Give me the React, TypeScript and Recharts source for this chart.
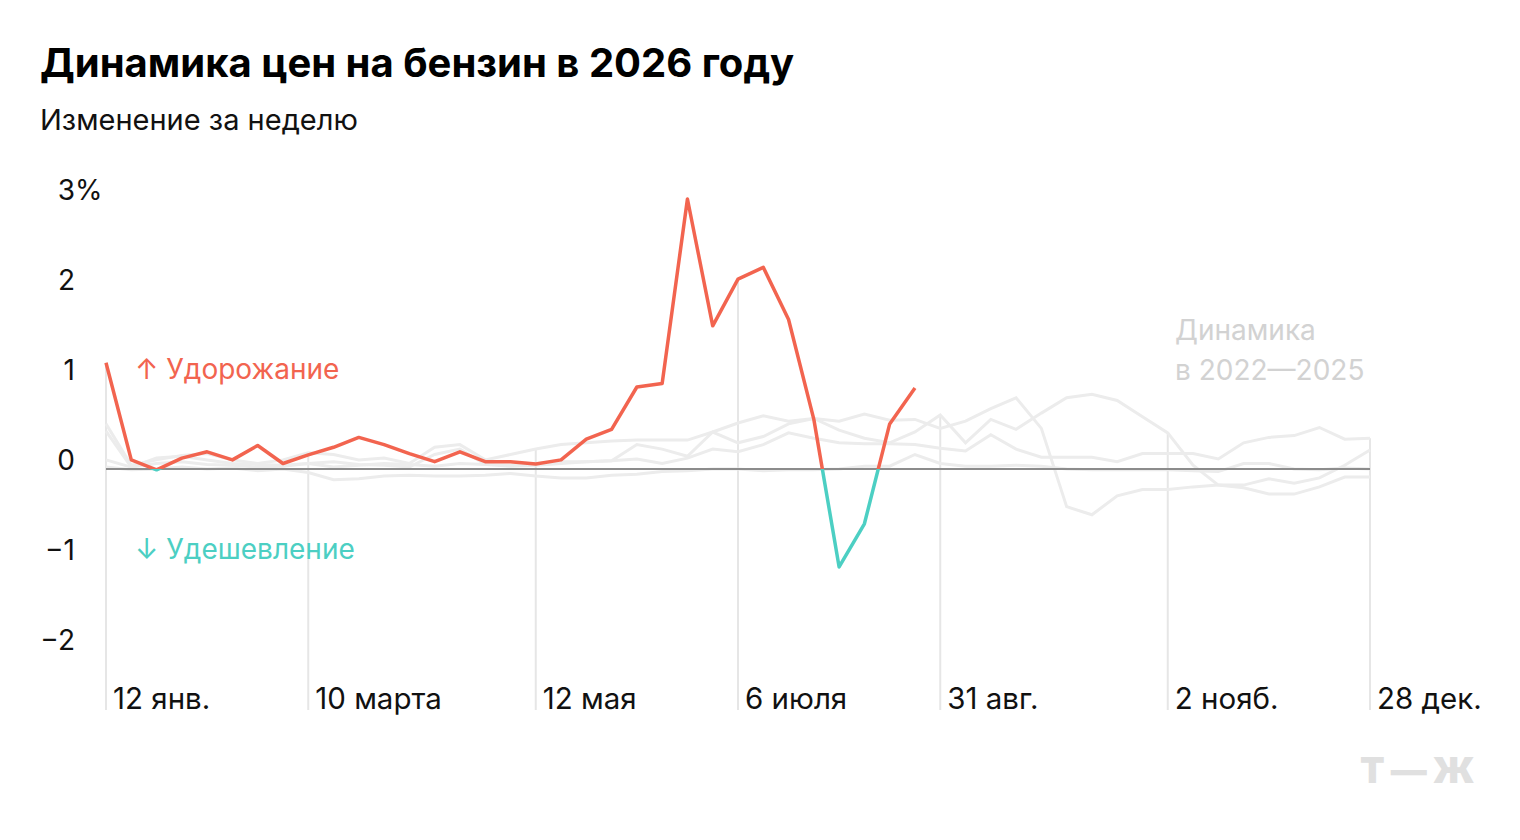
import { LineChart, Line, XAxis, YAxis, ReferenceLine } from "recharts"

// weekly change, %, weeks starting 12 Jan
const price2026 = [
  1.18, 0.1, -0.01, 0.12, 0.19, 0.1, 0.26, 0.06, 0.155, 0.24,
  0.35, 0.27, 0.17, 0.08, 0.19, 0.08, 0.08, 0.055, 0.1, 0.33,
  0.44, 0.91, 0.95, 3.0, 1.59, 2.11, 2.24, 1.66, 0.55, -1.09,
  -0.61, 0.5, 0.9,
]

const pastA = [
  0.5, 0.04, 0.1, 0.15, 0.17, 0.1, 0.06, 0.1, 0.18, 0.16, 0.1, 0.12, 0.06, 0.24, 0.27, 0.1, 0.16, 0.22, 0.27,
  0.29, 0.31, 0.32, 0.32, 0.32, 0.41, 0.51, 0.59, 0.53, 0.56, 0.53, 0.61, 0.54, 0.55,
  0.45, 0.53, 0.67, 0.79, 0.45, -0.42, -0.51, -0.3, -0.23, -0.23, -0.2, -0.18, -0.18, -0.11, -0.16, -0.1, 0.04, 0.21,
]
const pastB = [
  0.42, 0.02, 0.06, 0.08, 0.05, 0.04, 0.02, 0.03, 0.06, 0.08, 0.05, 0.04, 0.02, 0.16, 0.22, 0.05, 0.03, 0.04, 0.06,
  0.08, 0.09, 0.27, 0.22, 0.14, 0.41, 0.29, 0.36, 0.5, 0.56, 0.43, 0.34, 0.29, 0.41,
  0.6, 0.29, 0.55, 0.44, 0.62, 0.79, 0.83, 0.76, 0.58, 0.4, 0.04, -0.18, -0.21, -0.28, -0.28, -0.2, -0.09, -0.09,
]
const pastC = [
  0.1, 0.02, 0.12, 0.14, 0.1, 0.06, 0.05, 0.04, 0.06, 0.02, 0.04, 0.06, 0.05, 0.03, 0.06, 0.05, 0.04, 0.06, 0.08,
  0.08, 0.09, 0.11, 0.06, 0.12, 0.22, 0.19, 0.27, 0.4, 0.34, 0.29, 0.28, 0.28, 0.27,
  0.23, 0.2, 0.38, 0.22, 0.13, 0.13, 0.13, 0.08, 0.17, 0.17, 0.17, 0.11, 0.29, 0.35, 0.37, 0.46, 0.33, 0.34,
]
const pastD = [
  0.02, -0.01, 0.0, 0.02, 0.0, 0.01, -0.02, 0.0, -0.04, -0.12, -0.11, -0.08, -0.07, -0.08, -0.08, -0.07, -0.05, -0.08, -0.1,
  -0.1, -0.07, -0.06, -0.03, -0.02, 0.0, 0.0, -0.02, -0.01, -0.01, 0.0, 0.03, 0.03, 0.16,
  0.06, 0.03, 0.03, 0.04, 0.03, 0.0, -0.01, -0.01, -0.01, -0.01, -0.02, -0.03, 0.06, 0.06, 0.0, -0.01, 0.01, 0.0,
]

const xTicks = [0, 8, 17, 25, 33, 42, 50]
const xTickLabels = ["12 янв.", "10 марта", "12 мая", "6 июля", "31 авг.", "2 нояб.", "28 дек."]
const yTicks = [-2, -1, 0, 1, 2, 3]

const RED = "#f2644f"
const TEAL = "#4ccfc3"
const PAST = "#ececec"
const FONT = "Inter, 'Noto Sans', sans-serif"
const Y_MIN = -2.68
const Y_MAX = 3.3

const data = pastA.map((v, i) => ({
  week: i,
  a: v,
  b: pastB[i],
  c: pastC[i],
  d: pastD[i],
  now: i < price2026.length ? price2026[i] : null,
}))

// drop lines start at the highest series value of the tick week
const topAt = (w: number) =>
  Math.max(pastA[w], pastB[w], pastC[w], pastD[w], w < price2026.length ? price2026[w] : -Infinity)

const redMax = Math.max(...price2026)
const redMin = Math.min(...price2026)
const zeroOffset = redMax / (redMax - redMin)

function YTick({ y, payload }: any) {
  const v = payload.value
  const label = v < 0 ? `−${Math.abs(v)}` : `${v}`
  return (
    <text x={75} y={y - 9} dy="0.35em" fontSize={28} fill="#111" fontFamily={FONT}>
      <tspan textAnchor="end">{label}</tspan>
      {v === 3 && <tspan x={75} textAnchor="start">%</tspan>}
    </text>
  )
}

function XTick({ x, y, payload }: any) {
  const idx = xTicks.indexOf(payload.value)
  return (
    <text x={x + 7} y={y - 1} textAnchor="start" fontSize={29.5} fill="#111" fontFamily={FONT}>
      {xTickLabels[idx]}
    </text>
  )
}

const textBase = { position: "absolute" as const, fontFamily: FONT, whiteSpace: "nowrap" as const, lineHeight: 1 }

export default function App() {
  return (
    <div style={{ position: "absolute", left: 0, top: 0, width: 1520, height: 840, background: "#fff" }}>
      <div style={{ ...textBase, left: 40, top: 43, fontSize: 40, fontWeight: 700, color: "#000" }}>
        Динамика цен на бензин в 2026 году
      </div>
      <div style={{ ...textBase, left: 40, top: 105, fontSize: 29, color: "#111" }}>Изменение за неделю</div>

      <LineChart
        width={1520}
        height={840}
        data={data}
        margin={{ top: 172, right: 150, bottom: 100, left: 0 }}
        style={{ position: "absolute", left: 0, top: 0 }}
      >
        <defs>
          <linearGradient id="signStroke" x1="0" y1="0" x2="0" y2="1">
            <stop offset={zeroOffset} stopColor={RED} />
            <stop offset={zeroOffset} stopColor={TEAL} />
          </linearGradient>
        </defs>
        <XAxis
          dataKey="week"
          type="number"
          domain={[0, 50]}
          ticks={xTicks}
          axisLine={false}
          tickLine={false}
          tickSize={0}
          tickMargin={0}
          height={30}
          tick={<XTick />}
          interval={0}
        />
        <YAxis
          type="number"
          domain={[Y_MIN, Y_MAX]}
          ticks={yTicks}
          axisLine={false}
          tickLine={false}
          width={106}
          tick={<YTick />}
          interval={0}
          allowDataOverflow
        />
        {xTicks.map((w) => (
          <ReferenceLine
            key={w}
            segment={[
              { x: w, y: topAt(w) },
              { x: w, y: Y_MIN },
            ]}
            stroke="#e6e6e6"
            strokeWidth={2}
          />
        ))}
        {["a", "b", "c", "d"].map((k) => (
          <Line
            key={k}
            dataKey={k}
            type="linear"
            stroke={PAST}
            strokeWidth={3}
            dot={false}
            activeDot={false}
            isAnimationActive={false}
          />
        ))}
        <ReferenceLine y={0} stroke="#8c8c8c" strokeWidth={2} />
        <Line
          dataKey="now"
          type="linear"
          stroke="url(#signStroke)"
          strokeWidth={3.5}
          strokeLinejoin="round"
          dot={false}
          activeDot={false}
          connectNulls={false}
          isAnimationActive={false}
        />
      </LineChart>

      <div style={{ ...textBase, left: 135, top: 355, fontSize: 28, color: RED }}>↑ Удорожание</div>
      <div style={{ ...textBase, left: 135, top: 535, fontSize: 28, color: TEAL }}>↓ Удешевление</div>
      <div style={{ ...textBase, left: 1175, top: 310, fontSize: 28, color: "#d2d2d2", lineHeight: "40px" }}>
        Динамика
        <br />в 2022—2025
      </div>
      <div
        style={{
          ...textBase,
          left: 1360,
          top: 752,
          fontSize: 36,
          fontWeight: 900,
          color: "#e0e0e0",
          letterSpacing: 6,
        }}
      >
        Т—Ж
      </div>
    </div>
  )
}
